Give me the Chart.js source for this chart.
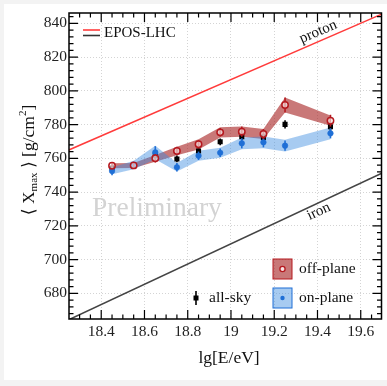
<!DOCTYPE html>
<html><head><meta charset="utf-8">
<script src="https://cdn.jsdelivr.net/npm/chart.js@4.4.1/dist/chart.umd.min.js"></script>
<style>html,body{margin:0;padding:0;background:#fff;overflow:hidden}</style>
</head><body>
<canvas id="c" width="387" height="386"></canvas>
<script>
// ---------- data ----------
const energy   = [18.45, 18.55, 18.65, 18.75, 18.85, 18.95, 19.05, 19.15, 19.25, 19.46];
const offPlane = [755.6, 755.8, 760.0, 764.3, 768.3, 775.4, 775.8, 774.4, 791.6, 782.3];
const offErr   = [2.0, 2.0, 2.5, 2.5, 2.5, 2.5, 3.0, 3.0, 4.5, 3.5];
const offSys   = [1.5, 1.5, 2.0, 2.5, 3.0, 3.0, 3.0, 3.0, 4.5, 3.0];
const allSky   = [754.3, 755.5, 762.0, 759.6, 764.3, 769.8, 772.8, 772.4, 780.1, 778.7];
const allErr   = [1.5, 1.5, 2.0, 2.0, 2.0, 2.0, 2.0, 2.0, 2.5, 2.5];
const onPlane  = [752.5, 756.0, 763.5, 754.7, 761.5, 763.3, 768.9, 769.5, 767.5, 774.8];
const onErr    = [2.5, 2.0, 3.7, 2.5, 2.5, 2.5, 3.0, 3.0, 3.0, 3.0];
const onSys    = [2.0, 2.5, 4.0, 2.5, 3.0, 3.0, 3.5, 3.5, 3.5, 3.5];
const lineX    = [18.25, 19.70];
const protonY  = [764.9, 845.6];
const ironY    = [664.4, 751.3];
const xTicks   = [18.4, 18.6, 18.8, 19.0, 19.2, 19.4, 19.6];
const yTicks   = [680, 700, 720, 740, 760, 780, 800, 820, 840];
const xRange   = [18.251, 19.696];
const yRange   = [664.8, 846.1];

const SERIF = "'Liberation Serif','DejaVu Serif',serif";
const RED = '#b5181e', BLUE = '#1f6fd6', RED_BAND = 'rgba(165,30,30,0.6)', BLUE_BAND = 'rgba(60,140,225,0.45)';

const pts = (xs, ys) => xs.map((x, i) => ({x, y: ys[i]}));
const band = (vals, sys, sign) => vals.map((v, i) => v + sign * sys[i]);

const decor = {
  id: 'decor',
  beforeDraw(chart) {
    const ctx = chart.ctx;
    ctx.save();
    ctx.fillStyle = '#f3f3f3'; ctx.fillRect(0, 0, chart.width, chart.height);
    ctx.fillStyle = '#ffffff'; ctx.fillRect(4, 4, chart.width - 4, 376);
    ctx.restore();
  },
  beforeDatasetsDraw(chart) {
    const ctx = chart.ctx;
    ctx.save();
    ctx.font = '27.5px ' + SERIF;
    ctx.fillStyle = '#d3d3d3';
    ctx.textBaseline = 'alphabetic';
    ctx.fillText('Preliminary', 92, 216);
    ctx.restore();
  },
  beforeDatasetDraw(chart, args) {
    const ds = chart.data.datasets[args.index];
    if (!ds.errors) return;
    const ctx = chart.ctx, xs = chart.scales.x, ys = chart.scales.y;
    ctx.save();
    ctx.strokeStyle = ds.errColor; ctx.lineWidth = 1.6;
    ds.data.forEach((p, i) => {
      const px = xs.getPixelForValue(p.x);
      ctx.beginPath();
      ctx.moveTo(px, ys.getPixelForValue(p.y - ds.errors[i]));
      ctx.lineTo(px, ys.getPixelForValue(p.y + ds.errors[i]));
      ctx.stroke();
    });
    ctx.restore();
  },
  afterDraw(chart) {
    const ctx = chart.ctx, a = chart.chartArea, xs = chart.scales.x, ys = chart.scales.y;
    ctx.save();
    // frame
    ctx.strokeStyle = '#000'; ctx.lineWidth = 1.5;
    ctx.strokeRect(a.left, a.top, a.right - a.left, a.bottom - a.top);
    // ticks
    ctx.lineWidth = 1.2;
    const tickY = (v, len) => { const p = ys.getPixelForValue(v);
      ctx.beginPath(); ctx.moveTo(a.left, p); ctx.lineTo(a.left + len, p);
      ctx.moveTo(a.right, p); ctx.lineTo(a.right - len, p); ctx.stroke(); };
    const tickX = (v, len) => { const p = xs.getPixelForValue(v);
      ctx.beginPath(); ctx.moveTo(p, a.bottom); ctx.lineTo(p, a.bottom - len);
      ctx.moveTo(p, a.top); ctx.lineTo(p, a.top + len); ctx.stroke(); };
    for (let v = Math.ceil(yRange[0] / 4) * 4; v <= yRange[1]; v += 4) tickY(v, v % 20 === 0 ? 9 : 4.5);
    for (let k = Math.ceil(xRange[0] / 0.05); k * 0.05 <= xRange[1]; k++) {
      const v = k * 0.05; tickX(v, k % 4 === 0 ? 9 : 4.5);
    }
    // axis titles
    ctx.fillStyle = '#111';
    ctx.font = '17.5px ' + SERIF; ctx.textAlign = 'center'; ctx.textBaseline = 'middle';
    ctx.fillText('lg[E/eV]', 229, 358);
    // y title with sub/superscript
    ctx.save();
    ctx.translate(34, 160); ctx.rotate(-Math.PI / 2);
    ctx.textAlign = 'left'; ctx.textBaseline = 'alphabetic';
    const parts = [['\u27E8 X', 17.5, 0], ['max', 11, 3], [' \u27E9 [g/cm', 17.5, 0], ['2', 11, -8], [']', 17.5, 0]];
    let total = 0;
    parts.forEach(p => { ctx.font = p[1] + 'px ' + SERIF; total += ctx.measureText(p[0]).width; });
    let x0 = -total / 2;
    parts.forEach(p => { ctx.font = p[1] + 'px ' + SERIF; ctx.fillText(p[0], x0, p[2]); x0 += ctx.measureText(p[0]).width; });
    ctx.restore();
    // line labels along the model lines
    const lineLabel = (txt, yArr, xv, off) => {
      const x1 = xs.getPixelForValue(lineX[0]), y1 = ys.getPixelForValue(yArr[0]);
      const x2 = xs.getPixelForValue(lineX[1]), y2 = ys.getPixelForValue(yArr[1]);
      const ang = Math.atan2(y2 - y1, x2 - x1);
      const px = xs.getPixelForValue(xv), py = y1 + (px - x1) * (y2 - y1) / (x2 - x1);
      ctx.save();
      ctx.translate(px + off * Math.sin(ang), py - off * Math.cos(ang));
      ctx.rotate(ang);
      ctx.font = '15px ' + SERIF; ctx.fillStyle = '#111';
      ctx.textAlign = 'center'; ctx.textBaseline = 'middle';
      ctx.fillText(txt, 0, 0);
      ctx.restore();
    };
    lineLabel('proton', protonY, 19.42, 9);
    lineLabel('iron', ironY, 19.39, -8);
    // legend: models
    ctx.lineWidth = 1.6;
    ctx.strokeStyle = '#ff3b3b'; ctx.beginPath(); ctx.moveTo(83, 30); ctx.lineTo(100, 30); ctx.stroke();
    ctx.strokeStyle = '#333'; ctx.beginPath(); ctx.moveTo(83, 35.5); ctx.lineTo(100, 35.5); ctx.stroke();
    ctx.fillStyle = '#111'; ctx.font = '15px ' + SERIF; ctx.textAlign = 'left'; ctx.textBaseline = 'middle';
    ctx.fillText('EPOS-LHC', 104, 33);
    // legend: data
    const box = (y, fill, stroke, mfill, mr, label) => {
      ctx.fillStyle = fill; ctx.fillRect(273, y, 19, 20);
      ctx.strokeStyle = stroke; ctx.lineWidth = 1; ctx.strokeRect(273, y, 19, 20);
      ctx.beginPath(); ctx.arc(282.5, y + 10, mr, 0, Math.PI * 2);
      ctx.fillStyle = mfill; ctx.fill();
      if (mfill !== stroke) { ctx.lineWidth = 1.3; ctx.strokeStyle = stroke; ctx.stroke(); }
      ctx.fillStyle = '#111'; ctx.font = '15.5px ' + SERIF; ctx.fillText(label, 299, y + 10);
    };
    const dsets = chart.data.datasets;
    box(259, RED_BAND, RED, '#f6e4e4', 2.6, dsets.find(d => d.key === 'off').label);
    box(288, BLUE_BAND, BLUE, BLUE, 2.2, dsets.find(d => d.key === 'on').label);
    ctx.strokeStyle = '#000'; ctx.lineWidth = 1.6;
    ctx.beginPath(); ctx.moveTo(196, 291); ctx.lineTo(196, 305); ctx.stroke();
    ctx.fillStyle = '#000'; ctx.fillRect(193.5, 295.5, 5, 5);
    ctx.fillStyle = '#111'; ctx.font = '15.5px ' + SERIF;
    ctx.fillText(dsets.find(d => d.key === 'all').label, 209, 298);
    ctx.restore();
  }
};

new Chart(document.getElementById('c'), {
  type: 'scatter',
  data: {
    datasets: [
      { label: 'red low', data: pts(energy, band(offPlane, offSys, -1)), showLine: true, borderWidth: 0, pointRadius: 0, fill: false, order: 10 },
      { label: 'red high', data: pts(energy, band(offPlane, offSys, 1)), showLine: true, borderWidth: 0, pointRadius: 0, backgroundColor: RED_BAND, fill: '-1', order: 9 },
      { label: 'blue low', data: pts(energy, band(onPlane, onSys, -1)), showLine: true, borderWidth: 0, pointRadius: 0, fill: false, order: 8 },
      { label: 'blue high', data: pts(energy, band(onPlane, onSys, 1)), showLine: true, borderWidth: 0, pointRadius: 0, backgroundColor: BLUE_BAND, fill: '-1', order: 7 },
      { label: 'proton', data: pts(lineX, protonY), showLine: true, borderColor: '#ff3b3b', borderWidth: 1.6, pointRadius: 0, order: 6 },
      { label: 'iron', data: pts(lineX, ironY), showLine: true, borderColor: '#444', borderWidth: 1.6, pointRadius: 0, order: 6 },
      { key: 'all', label: 'all-sky', data: pts(energy, allSky), errors: allErr, errColor: '#000', pointStyle: 'rect', pointRadius: 3.6, backgroundColor: '#000', borderColor: '#000', borderWidth: 0, order: 3 },
      { key: 'on', label: 'on-plane', data: pts(energy, onPlane), errors: onErr, errColor: BLUE, pointStyle: 'circle', pointRadius: 2.8, backgroundColor: BLUE, borderColor: BLUE, borderWidth: 0.5, order: 2 },
      { key: 'off', label: 'off-plane', data: pts(energy, offPlane), errors: offErr, errColor: RED, pointStyle: 'circle', pointRadius: 3.2, backgroundColor: 'rgba(255,255,255,0.6)', borderColor: RED, borderWidth: 1.5, order: 1 }
    ]
  },
  options: {
    responsive: false, animation: false, devicePixelRatio: 1,
    layout: { padding: { top: 13, right: 1, left: 0, bottom: 0 } },
    plugins: { legend: { display: false }, tooltip: { enabled: false } },
    scales: {
      x: {
        type: 'linear', min: xRange[0], max: xRange[1],
        afterBuildTicks: s => { s.ticks = xTicks.map(v => ({ value: v })); },
        afterFit: s => { s.height = 67; },
        ticks: { padding: 4, color: '#222', font: { family: SERIF, size: 15.5 }, maxRotation: 0, callback: v => String(Number(v.toFixed(1))) },
        grid: { color: '#d4d4d4', drawTicks: false, lineWidth: 1 },
        border: { display: false, dash: [1, 2] }
      },
      y: {
        type: 'linear', min: yRange[0], max: yRange[1],
        afterBuildTicks: s => { s.ticks = yTicks.map(v => ({ value: v })); },
        afterFit: s => { s.width = 69; },
        ticks: { padding: 2, color: '#222', font: { family: SERIF, size: 15.5 }, callback: v => String(v) },
        grid: { color: '#d4d4d4', drawTicks: false, lineWidth: 1 },
        border: { display: false, dash: [1, 2] }
      }
    }
  },
  plugins: [decor]
});
</script>
</body></html>
